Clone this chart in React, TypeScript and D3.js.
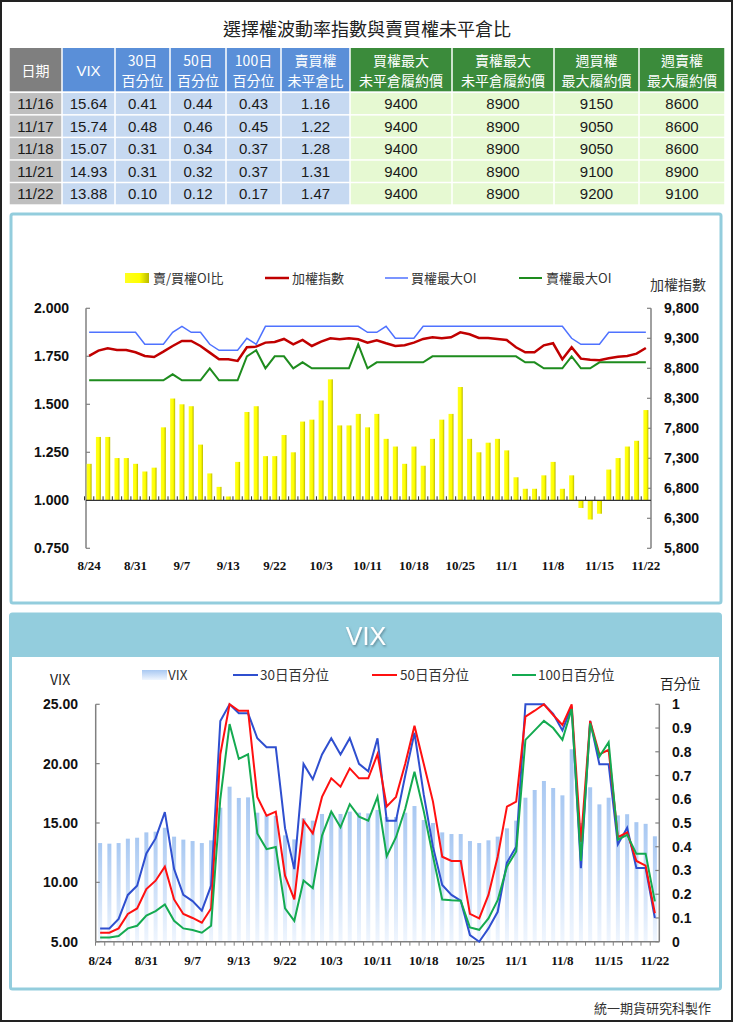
import React from "react";
import * as d3 from "d3";

// 交易日 (2016/8/24 ~ 11/22)
const dates = [
    "8/24", "8/25", "8/26", "8/29", "8/30", "8/31", "9/1", "9/2", "9/5", "9/6",
    "9/7", "9/8", "9/9", "9/10", "9/12", "9/13", "9/14", "9/19", "9/20", "9/21",
    "9/22", "9/23", "9/26", "9/29", "9/30", "10/3", "10/4", "10/5", "10/6", "10/7",
    "10/11", "10/12", "10/13", "10/14", "10/17", "10/18", "10/19", "10/20", "10/21", "10/24",
    "10/25", "10/26", "10/27", "10/28", "10/31", "11/1", "11/2", "11/3", "11/4", "11/7",
    "11/8", "11/9", "11/10", "11/11", "11/14", "11/15", "11/16", "11/17", "11/18", "11/21",
    "11/22",
];

const putCallRatio = [
    1.19, 1.33, 1.33, 1.22, 1.22, 1.19, 1.15, 1.17, 1.38, 1.53,
    1.50, 1.49, 1.29, 1.14, 1.07, 1.02, 1.20, 1.46, 1.49, 1.23,
    1.23, 1.34, 1.25, 1.41, 1.42, 1.52, 1.63, 1.39, 1.39, 1.45,
    1.38, 1.45, 1.32, 1.28, 1.19, 1.28, 1.18, 1.32, 1.42, 1.45,
    1.59, 1.32, 1.25, 1.30, 1.32, 1.26, 1.12, 1.06, 1.06, 1.13,
    1.20, 1.06, 1.13, 0.96, 0.90, 0.93, 1.16, 1.22, 1.28, 1.31,
    1.47,
];

const taiex = [
    9006, 9094, 9133, 9106, 9106, 9067, 9006, 8989, 9078, 9172,
    9256, 9256, 9172, 9061, 8950, 8950, 8922, 9150, 9161, 9228,
    9239, 9289, 9200, 9272, 9172, 9244, 9300, 9283, 9300, 9283,
    9228, 9267, 9217, 9172, 9183, 9228, 9289, 9317, 9300, 9317,
    9400, 9367, 9306, 9306, 9289, 9272, 9150, 9067, 9067, 9183,
    9217, 8950, 9150, 8961, 8944, 8933, 8967, 8994, 9006, 9044,
    9139,
];

const callMaxOI = [
    9400, 9400, 9400, 9400, 9400, 9400, 9200, 9200, 9200, 9400,
    9500, 9400, 9400, 9200, 9100, 9100, 9100, 9300, 9200, 9500,
    9500, 9500, 9500, 9500, 9500, 9500, 9500, 9500, 9500, 9500,
    9400, 9400, 9500, 9300, 9300, 9300, 9500, 9500, 9500, 9500,
    9500, 9500, 9500, 9500, 9500, 9500, 9500, 9500, 9500, 9500,
    9500, 9500, 9300, 9200, 9200, 9200, 9400, 9400, 9400, 9400,
    9400,
];

const putMaxOI = [
    8600, 8600, 8600, 8600, 8600, 8600, 8600, 8600, 8600, 8700,
    8600, 8600, 8600, 8800, 8600, 8600, 8600, 9000, 9100, 8800,
    9000, 9000, 8800, 8900, 8800, 8800, 8800, 8800, 8800, 9200,
    8800, 8900, 8900, 8900, 8900, 8900, 8900, 9000, 9000, 9000,
    9000, 9000, 9000, 9000, 9000, 9000, 9000, 8900, 8900, 8800,
    8800, 8800, 9000, 8800, 8800, 8900, 8900, 8900, 8900, 8900,
    8900,
];

const vix = [
    13.31, 13.26, 13.31, 13.68, 13.76, 14.21, 14.27, 14.6, 13.85, 13.6,
    13.48, 13.31, 13.54, 16.29, 18.06, 17.11, 17.16, 15.87, 15.65, 15.6,
    13.96, 13.62, 15.4, 15.2, 15.76, 15.87, 15.76, 15.96, 15.87, 15.81,
    16.1, 15.5, 15.5, 15.87, 16.43, 15.25, 15.0, 14.21, 14.07, 14.07,
    13.48, 13.31, 13.54, 13.85, 14.55, 15.2, 17.13, 17.78, 18.54, 17.95,
    17.33, 21.21, 15.0, 18.01, 16.57, 17.13, 15.64, 15.74, 15.07, 14.93,
    13.88,
];

const pct30 = [
    0.056, 0.056, 0.096, 0.197, 0.236, 0.372, 0.435, 0.546, 0.306, 0.197,
    0.171, 0.131, 0.236, 0.93, 1.0, 0.962, 0.962, 0.857, 0.819, 0.819,
    0.478, 0.306, 0.749, 0.684, 0.789, 0.857, 0.789, 0.857, 0.749, 0.718,
    0.857, 0.51, 0.51, 0.7, 0.88, 0.62, 0.4, 0.239, 0.197, 0.173,
    0.028, 0.0, 0.056, 0.126, 0.333, 0.4, 1.0, 1.0, 1.0, 0.96,
    0.89, 0.99, 0.31, 0.93, 0.747, 0.747, 0.41, 0.48, 0.31, 0.31,
    0.1,
];

const pct50 = [
    0.038, 0.038, 0.056, 0.117, 0.14, 0.222, 0.257, 0.316, 0.178, 0.117,
    0.1, 0.08, 0.14, 0.789, 1.0, 0.973, 0.973, 0.61, 0.531, 0.548,
    0.278, 0.178, 0.51, 0.456, 0.61, 0.688, 0.653, 0.73, 0.688, 0.688,
    0.79, 0.57, 0.61, 0.75, 0.91, 0.75, 0.59, 0.358, 0.34, 0.34,
    0.117, 0.098, 0.197, 0.358, 0.569, 0.59, 0.948, 0.973, 1.0, 0.955,
    0.913, 1.0, 0.42, 0.93, 0.789, 0.808, 0.44, 0.46, 0.34, 0.32,
    0.12,
];

const pct100 = [
    0.018, 0.018, 0.024, 0.056, 0.067, 0.11, 0.129, 0.157, 0.088, 0.056,
    0.049, 0.038, 0.067, 0.601, 0.917, 0.77, 0.789, 0.456, 0.39, 0.399,
    0.14, 0.088, 0.258, 0.226, 0.447, 0.548, 0.482, 0.579, 0.527, 0.51,
    0.61, 0.36, 0.44, 0.56, 0.716, 0.55, 0.36, 0.178, 0.175, 0.173,
    0.06, 0.05, 0.098, 0.175, 0.316, 0.38, 0.85, 0.89, 0.93, 0.9,
    0.85, 0.98, 0.34, 0.92, 0.78, 0.84, 0.43, 0.45, 0.37, 0.37,
    0.17,
];

// 表格
const tableHeaders = [
    ["日期"], ["VIX"], ["30日", "百分位"], ["50日", "百分位"], ["100日", "百分位"],
    ["賣買權", "未平倉比"], ["買權最大", "未平倉履約價"], ["賣權最大", "未平倉履約價"],
    ["週買權", "最大履約價"], ["週賣權", "最大履約價"],
];
const tableDates = ["11/16", "11/17", "11/18", "11/21", "11/22"];
const tableVix = ["15.64", "15.74", "15.07", "14.93", "13.88"];
const table30 = ["0.41", "0.48", "0.31", "0.31", "0.10"];
const table50 = ["0.44", "0.46", "0.34", "0.32", "0.12"];
const table100 = ["0.43", "0.45", "0.37", "0.37", "0.17"];
const tableRatio = ["1.16", "1.22", "1.28", "1.31", "1.47"];
const tableCallMax = ["9400", "9400", "9400", "9400", "9400"];
const tablePutMax = ["8900", "8900", "8900", "8900", "8900"];
const tableWeekCall = ["9150", "9050", "9050", "9100", "9200"];
const tableWeekPut = ["8600", "8600", "8600", "8900", "9100"];

const CJK = "'Noto Sans CJK TC', 'Noto Sans', sans-serif";
const ARIAL = "'Liberation Sans', Arial, sans-serif";
const TIMES = "'Liberation Serif', 'Times New Roman', serif";
const PANEL = "#93cddd";
const AXIS = "#808080";

const colX = [9, 62, 115, 170, 226, 281, 350, 452, 554, 639, 725];

const Table: React.FC = () => {
    const cols = [tableDates, tableVix, table30, table50, table100, tableRatio,
        tableCallMax, tablePutMax, tableWeekCall, tableWeekPut];
    const headTop = 48, headBot = 92.3, rowH = 22.55;
    const headFill = (c: number) => (c === 0 ? "#7f7f7f" : c <= 5 ? "#5a8fd8" : "#3b8b3b");
    const cellFill = (c: number) => (c === 0 ? "#bfbfbf" : c <= 5 ? "#c6d9f1" : "#e6f9d2");
    return (
        <g>
            {tableHeaders.map((lines, c) => {
                const x0 = colX[c], x1 = colX[c + 1];
                const cx = (x0 + x1) / 2;
                return (
                    <g key={"h" + c}>
                        <rect x={x0 + 0.75} y={headTop} width={x1 - x0 - 1.5} height={headBot - headTop - 1}
                            fill={headFill(c)} />
                        {lines.length === 1 ? (
                            <text x={cx} y={76} textAnchor="middle" fill="#fff" fontSize={c === 1 ? 15 : 14}
                                fontFamily={c === 1 ? ARIAL : CJK}>{lines[0]}</text>
                        ) : lines.map((t, k) => (
                            <text key={k} x={cx} y={66 + k * 19.5} textAnchor="middle" fill="#fff" fontSize={14}
                                fontFamily={CJK}>{t}</text>
                        ))}
                    </g>
                );
            })}
            {cols.map((vals, c) => vals.map((v, r) => {
                const x0 = colX[c], x1 = colX[c + 1];
                const y0 = headBot + r * rowH;
                return (
                    <g key={`c${c}-${r}`}>
                        <rect x={x0 + 0.75} y={y0 + 0.75} width={x1 - x0 - 1.5} height={rowH - 1.5} fill={cellFill(c)} />
                        <text x={(x0 + x1) / 2} y={y0 + rowH / 2 + 5.5} textAnchor="middle" fill="#1a1a1a"
                            fontSize={15} fontFamily={ARIAL}>{v}</text>
                    </g>
                );
            }))}
        </g>
    );
};

const TopChart: React.FC = () => {
    const x = d3.scaleBand<string>().domain(dates).range([84.5, 650.5]);
    const yL = d3.scaleLinear().domain([0.75, 2]).range([548.3, 308.3]);
    const yR = d3.scaleLinear().domain([5800, 9800]).range([548.3, 308.3]);
    const cx = (i: number) => x(dates[i])! + x.bandwidth() / 2;
    const line = d3.line<number>().x((_, i) => cx(i)).y((d) => yR(d));
    const leftTicks = d3.range(0.75, 2.001, 0.25);
    const rightTicks = d3.range(5800, 9801, 500);
    const axL = 86, axR = 651;
    const base = yL(1);
    const barW = 5;
    return (
        <g>
            {/* 圖例 */}
            <rect x={125} y={273} width={24} height={10} fill="url(#yellowBar)" />
            <text x={153} y={283} fontSize={13} fontFamily={CJK} fill="#333">賣/買權OI比</text>
            <line x1={265} x2={289} y1={278} y2={278} stroke="#c00000" strokeWidth={2.5} />
            <text x={292} y={283} fontSize={13} fontFamily={CJK} fill="#333">加權指數</text>
            <line x1={385} x2={408} y1={278} y2={278} stroke="#4f72ff" strokeWidth={1.5} />
            <text x={411} y={283} fontSize={13} fontFamily={CJK} fill="#333">買權最大OI</text>
            <line x1={519} x2={542} y1={278} y2={278} stroke="#1e8c1e" strokeWidth={2} />
            <text x={546} y={283} fontSize={13} fontFamily={CJK} fill="#333">賣權最大OI</text>
            <text x={650} y={290} fontSize={14} fontFamily={CJK} fill="#333">加權指數</text>

            {/* 軸 */}
            <line x1={axL} x2={axL} y1={yL(2)} y2={yL(0.75)} stroke={AXIS} strokeWidth={1.5} />
            {leftTicks.map((t) => (
                <g key={"l" + t}>
                    <line x1={axL} x2={axL + 4} y1={yL(t)} y2={yL(t)} stroke={AXIS} strokeWidth={1.2} />
                    <text x={69} y={yL(t) + 5} textAnchor="end" fontSize={14} fontWeight="bold"
                        fontFamily={ARIAL} fill="#111">{d3.format(".3f")(t)}</text>
                </g>
            ))}
            <line x1={axR} x2={axR} y1={yR(9800)} y2={yR(5800)} stroke={AXIS} strokeWidth={1.5} />
            {rightTicks.map((t) => (
                <g key={"r" + t}>
                    <line x1={axR - 4} x2={axR} y1={yR(t)} y2={yR(t)} stroke={AXIS} strokeWidth={1.2} />
                    <text x={664} y={yR(t) + 5} fontSize={14} fontWeight="bold"
                        fontFamily={ARIAL} fill="#111">{d3.format(",")(t)}</text>
                </g>
            ))}

            {/* 賣/買權OI比 */}
            {putCallRatio.map((v, i) => (
                <rect key={"b" + i} x={cx(i) - barW / 2} y={Math.min(yL(v), base)} width={barW}
                    height={Math.abs(yL(v) - base)} fill="url(#yellowBar)" />
            ))}
            <line x1={axL} x2={axR} y1={base} y2={base} stroke="#333" strokeWidth={1.2} />
            {dates.map((_, i) => (
                <line key={"t" + i} x1={x(dates[i])!} x2={x(dates[i])!} y1={base - 4} y2={base}
                    stroke="#333" strokeWidth={1} />
            ))}

            <path d={line(putMaxOI)!} fill="none" stroke="#1e8c1e" strokeWidth={2} />
            <path d={line(callMaxOI)!} fill="none" stroke="#4f72ff" strokeWidth={1.5} />
            <path d={line(taiex)!} fill="none" stroke="#c00000" strokeWidth={2.5} />

            {dates.map((d, i) => i % 5 === 0 ? (
                <text key={"x" + i} x={cx(i)} y={570} textAnchor="middle" fontSize={13} fontWeight="bold"
                    fontFamily={TIMES} fill="#111">{d}</text>
            ) : null)}
        </g>
    );
};

const VixChart: React.FC = () => {
    const x = d3.scaleBand<string>().domain(dates).range([95.5, 659.5]);
    const y = d3.scaleLinear().domain([5, 25]).range([941.7, 704.3]);
    const yP = d3.scaleLinear().domain([0, 1]).range([941.7, 704.3]);
    const cx = (i: number) => x(dates[i])! + x.bandwidth() / 2;
    const line = d3.line<number>().x((_, i) => cx(i)).y((d) => yP(d));
    const axL = 95.7, axR = 659.3;
    const leftTicks = d3.range(5, 25.01, 5);
    const rightTicks = d3.range(0, 11).map((k) => k / 10);
    const barW = 4;
    return (
        <g>
            {/* 圖例 */}
            <text x={50} y={685} fontSize={14} fontFamily={CJK} fill="#222">VIX</text>
            <text x={660} y={689} fontSize={13.5} fontFamily={CJK} fill="#222">百分位</text>
            <rect x={142} y={670} width={25} height={10} fill="url(#vixBar)" />
            <text x={168} y={680} fontSize={13.5} fontFamily={CJK} fill="#333">VIX</text>
            <line x1={233} x2={258} y1={675} y2={675} stroke="#2f4fcf" strokeWidth={2} />
            <text x={260} y={680} fontSize={13.5} fontFamily={CJK} fill="#333">30日百分位</text>
            <line x1={372} x2={397} y1={675} y2={675} stroke="#ff1010" strokeWidth={2} />
            <text x={400} y={680} fontSize={13.5} fontFamily={CJK} fill="#333">50日百分位</text>
            <line x1={512} x2={536} y1={675} y2={675} stroke="#14aa50" strokeWidth={2} />
            <text x={538} y={680} fontSize={13.5} fontFamily={CJK} fill="#333">100日百分位</text>

            {/* VIX 柱 */}
            {vix.map((v, i) => (
                <rect key={"v" + i} x={cx(i) - barW / 2} y={y(v)} width={barW} height={y(5) - y(v)}
                    fill="url(#vixBar)" />
            ))}

            {/* 軸 */}
            <line x1={axL} x2={axL} y1={y(25)} y2={y(5)} stroke={AXIS} strokeWidth={1.5} />
            {leftTicks.map((t) => (
                <g key={"l" + t}>
                    <line x1={axL} x2={axL + 4} y1={y(t)} y2={y(t)} stroke={AXIS} strokeWidth={1.2} />
                    <text x={78} y={y(t) + 5} textAnchor="end" fontSize={14} fontWeight="bold"
                        fontFamily={ARIAL} fill="#111">{t.toFixed(2)}</text>
                </g>
            ))}
            <line x1={axR} x2={axR} y1={yP(1)} y2={yP(0)} stroke={AXIS} strokeWidth={1.5} />
            {rightTicks.map((t) => (
                <g key={"r" + t}>
                    <line x1={axR - 4} x2={axR} y1={yP(t)} y2={yP(t)} stroke={AXIS} strokeWidth={1.2} />
                    <text x={672} y={yP(t) + 5} fontSize={14} fontWeight="bold"
                        fontFamily={ARIAL} fill="#111">{t === 0 ? "0" : t === 1 ? "1" : t.toFixed(1)}</text>
                </g>
            ))}
            <line x1={axL} x2={axR} y1={y(5)} y2={y(5)} stroke={AXIS} strokeWidth={1.5} />
            {dates.map((_, i) => (
                <line key={"t" + i} x1={x(dates[i])!} x2={x(dates[i])!} y1={y(5)} y2={y(5) + 4}
                    stroke={AXIS} strokeWidth={1} />
            ))}

            <path d={line(pct30)!} fill="none" stroke="#2f4fcf" strokeWidth={2} />
            <path d={line(pct50)!} fill="none" stroke="#ff1010" strokeWidth={2} />
            <path d={line(pct100)!} fill="none" stroke="#14aa50" strokeWidth={2} />

            {dates.map((d, i) => i % 5 === 0 ? (
                <text key={"x" + i} x={cx(i)} y={965} textAnchor="middle" fontSize={13} fontWeight="bold"
                    fontFamily={TIMES} fill="#111">{d}</text>
            ) : null)}
        </g>
    );
};

const App: React.FC = () => (
    <>
        <style>{`body{margin:0}`}</style>
        <svg width={735} height={1024} style={{ display: "block", background: "#fff" }}>
            <defs>
                <linearGradient id="yellowBar" x1="0" y1="0" x2="1" y2="0">
                    <stop offset="0" stopColor="#ffff20" />
                    <stop offset="0.6" stopColor="#ffff00" />
                    <stop offset="1" stopColor="#b8b800" />
                </linearGradient>
                <linearGradient id="vixBar" x1="0" y1="0" x2="0" y2="1">
                    <stop offset="0" stopColor="#a8c8f2" />
                    <stop offset="1" stopColor="#f0f6fe" />
                </linearGradient>
                <filter id="titleShadow" x="-20%" y="-20%" width="140%" height="160%">
                    <feDropShadow dx="1" dy="1.5" stdDeviation="0.8" floodColor="#4a6a78" floodOpacity="0.7" />
                </filter>
            </defs>

            <rect x={1} y={1} width={731} height={1020} fill="#fff" stroke="#222" strokeWidth={2} />

            <text x={367} y={36} textAnchor="middle" fontSize={18} fontFamily={CJK} fill="#222">
                選擇權波動率指數與賣買權未平倉比
            </text>
            <Table />

            {/* 上方面板 */}
            <rect x={11} y={214} width={710} height={389} rx={2} fill="#fff" stroke={PANEL} strokeWidth={3} />
            <TopChart />

            {/* VIX 面板 */}
            <rect x={10.5} y={614} width={710} height={375} rx={2} fill="#fff" stroke={PANEL} strokeWidth={3} />
            <rect x={10.5} y={614} width={710} height={43} fill={PANEL} />
            <text x={366} y={645} textAnchor="middle" fontSize={25} fontFamily={ARIAL} fill="#fff"
                filter="url(#titleShadow)">VIX</text>
            <VixChart />

            <text x={711} y={1013} textAnchor="end" fontSize={13} fontFamily={CJK} fill="#333">統一期貨研究科製作</text>
        </svg>
    </>
);

export default App;
